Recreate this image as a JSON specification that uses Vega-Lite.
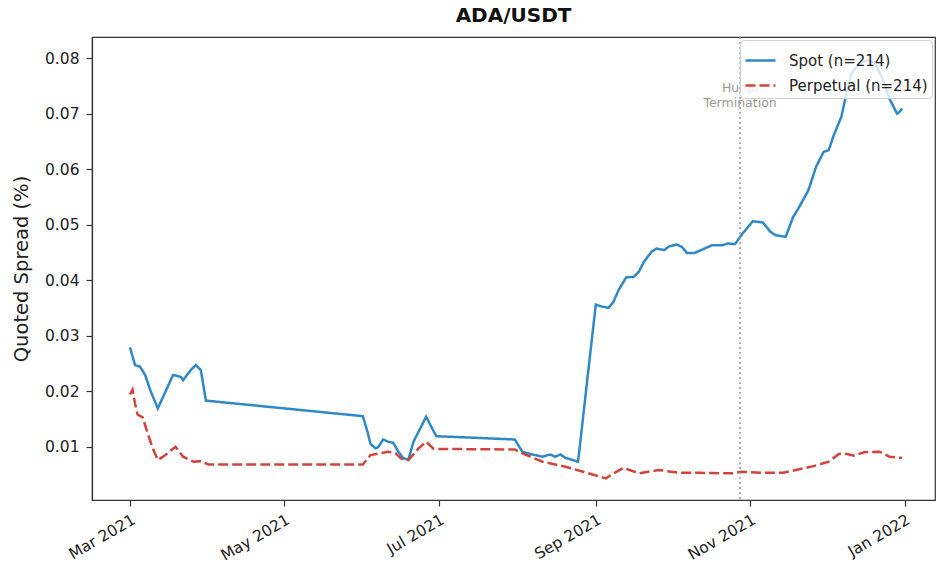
{
  "$schema": "https://vega.github.io/schema/vega-lite/v6.json",
  "width": 843,
  "height": 463,
  "autosize": {"type": "none"},
  "padding": {"left": 92, "top": 37, "right": 5, "bottom": 73},
  "background": "white",
  "title": {"text": "ADA/USDT", "fontSize": 20, "fontWeight": "bold", "font": "DejaVu Sans", "color": "#111", "offset": 10},
  "config": {
    "font": "DejaVu Sans",
    "view": {"stroke": "#333", "strokeWidth": 1.2},
    "axis": {
      "labelFont": "DejaVu Sans", "labelFontSize": 15.5, "labelColor": "#222",
      "titleFont": "DejaVu Sans", "titleFontSize": 19.5, "titleFontWeight": "normal", "titleColor": "#222",
      "tickColor": "#333", "tickSize": 6, "tickWidth": 1.2,
      "domainColor": "#333", "domainWidth": 1.2, "grid": false
    },
    "legend": {
      "orient": "top-right", "offset": 3,
      "fillColor": "rgba(255,255,255,0.8)", "strokeColor": "#d0d0d0", "cornerRadius": 4,
      "padding": 4, "labelFont": "DejaVu Sans", "labelFontSize": 15, "labelColor": "#222",
      "symbolType": "stroke", "symbolSize": 900, "symbolStrokeWidth": 2.4, "labelOffset": 12, "rowPadding": 0
    }
  },
  "layer": [
    {
      "data": {"values": [
        {"date": "2021-03-01T00:00:00", "series": "Spot (n=214)", "spread": 0.0279},
        {"date": "2021-03-03T00:00:00", "series": "Spot (n=214)", "spread": 0.0247},
        {"date": "2021-03-05T00:00:00", "series": "Spot (n=214)", "spread": 0.0244},
        {"date": "2021-03-07T00:00:00", "series": "Spot (n=214)", "spread": 0.0229},
        {"date": "2021-03-09T00:00:00", "series": "Spot (n=214)", "spread": 0.0202},
        {"date": "2021-03-12T00:00:00", "series": "Spot (n=214)", "spread": 0.0169},
        {"date": "2021-03-15T00:00:00", "series": "Spot (n=214)", "spread": 0.0199},
        {"date": "2021-03-18T00:00:00", "series": "Spot (n=214)", "spread": 0.0229},
        {"date": "2021-03-21T00:00:00", "series": "Spot (n=214)", "spread": 0.0226},
        {"date": "2021-03-22T00:00:00", "series": "Spot (n=214)", "spread": 0.0220},
        {"date": "2021-03-25T00:00:00", "series": "Spot (n=214)", "spread": 0.0238},
        {"date": "2021-03-27T00:00:00", "series": "Spot (n=214)", "spread": 0.0247},
        {"date": "2021-03-29T00:00:00", "series": "Spot (n=214)", "spread": 0.0238},
        {"date": "2021-03-31T00:00:00", "series": "Spot (n=214)", "spread": 0.0183},
        {"date": "2021-06-01T00:00:00", "series": "Spot (n=214)", "spread": 0.0155},
        {"date": "2021-06-03T00:00:00", "series": "Spot (n=214)", "spread": 0.0124},
        {"date": "2021-06-04T00:00:00", "series": "Spot (n=214)", "spread": 0.0105},
        {"date": "2021-06-06T00:00:00", "series": "Spot (n=214)", "spread": 0.0097},
        {"date": "2021-06-07T00:00:00", "series": "Spot (n=214)", "spread": 0.0099},
        {"date": "2021-06-09T00:00:00", "series": "Spot (n=214)", "spread": 0.0113},
        {"date": "2021-06-11T00:00:00", "series": "Spot (n=214)", "spread": 0.0109},
        {"date": "2021-06-13T00:00:00", "series": "Spot (n=214)", "spread": 0.0107},
        {"date": "2021-06-15T00:00:00", "series": "Spot (n=214)", "spread": 0.0091},
        {"date": "2021-06-17T00:00:00", "series": "Spot (n=214)", "spread": 0.0079},
        {"date": "2021-06-19T00:00:00", "series": "Spot (n=214)", "spread": 0.0077},
        {"date": "2021-06-21T00:00:00", "series": "Spot (n=214)", "spread": 0.0109},
        {"date": "2021-06-23T00:00:00", "series": "Spot (n=214)", "spread": 0.0127},
        {"date": "2021-06-25T00:00:00", "series": "Spot (n=214)", "spread": 0.0145},
        {"date": "2021-06-26T00:00:00", "series": "Spot (n=214)", "spread": 0.0154},
        {"date": "2021-06-28T00:00:00", "series": "Spot (n=214)", "spread": 0.0136},
        {"date": "2021-06-30T00:00:00", "series": "Spot (n=214)", "spread": 0.0119},
        {"date": "2021-07-31T00:00:00", "series": "Spot (n=214)", "spread": 0.0113},
        {"date": "2021-08-03T00:00:00", "series": "Spot (n=214)", "spread": 0.0091},
        {"date": "2021-08-07T00:00:00", "series": "Spot (n=214)", "spread": 0.0086},
        {"date": "2021-08-11T00:00:00", "series": "Spot (n=214)", "spread": 0.0082},
        {"date": "2021-08-14T00:00:00", "series": "Spot (n=214)", "spread": 0.0086},
        {"date": "2021-08-16T00:00:00", "series": "Spot (n=214)", "spread": 0.0082},
        {"date": "2021-08-18T00:00:00", "series": "Spot (n=214)", "spread": 0.0086},
        {"date": "2021-08-20T00:00:00", "series": "Spot (n=214)", "spread": 0.0080},
        {"date": "2021-08-25T00:00:00", "series": "Spot (n=214)", "spread": 0.0073},
        {"date": "2021-09-01T00:00:00", "series": "Spot (n=214)", "spread": 0.0356},
        {"date": "2021-09-03T00:00:00", "series": "Spot (n=214)", "spread": 0.0353},
        {"date": "2021-09-06T00:00:00", "series": "Spot (n=214)", "spread": 0.0350},
        {"date": "2021-09-08T00:00:00", "series": "Spot (n=214)", "spread": 0.0361},
        {"date": "2021-09-10T00:00:00", "series": "Spot (n=214)", "spread": 0.0382},
        {"date": "2021-09-13T00:00:00", "series": "Spot (n=214)", "spread": 0.0405},
        {"date": "2021-09-16T00:00:00", "series": "Spot (n=214)", "spread": 0.0406},
        {"date": "2021-09-18T00:00:00", "series": "Spot (n=214)", "spread": 0.0415},
        {"date": "2021-09-20T00:00:00", "series": "Spot (n=214)", "spread": 0.0433},
        {"date": "2021-09-23T00:00:00", "series": "Spot (n=214)", "spread": 0.0451},
        {"date": "2021-09-25T00:00:00", "series": "Spot (n=214)", "spread": 0.0457},
        {"date": "2021-09-28T00:00:00", "series": "Spot (n=214)", "spread": 0.0454},
        {"date": "2021-09-30T00:00:00", "series": "Spot (n=214)", "spread": 0.0461},
        {"date": "2021-10-03T00:00:00", "series": "Spot (n=214)", "spread": 0.0464},
        {"date": "2021-10-05T00:00:00", "series": "Spot (n=214)", "spread": 0.0460},
        {"date": "2021-10-07T00:00:00", "series": "Spot (n=214)", "spread": 0.0449},
        {"date": "2021-10-10T00:00:00", "series": "Spot (n=214)", "spread": 0.0449},
        {"date": "2021-10-13T00:00:00", "series": "Spot (n=214)", "spread": 0.0455},
        {"date": "2021-10-17T00:00:00", "series": "Spot (n=214)", "spread": 0.0463},
        {"date": "2021-10-21T00:00:00", "series": "Spot (n=214)", "spread": 0.0463},
        {"date": "2021-10-23T00:00:00", "series": "Spot (n=214)", "spread": 0.0466},
        {"date": "2021-10-26T00:00:00", "series": "Spot (n=214)", "spread": 0.0465},
        {"date": "2021-10-29T00:00:00", "series": "Spot (n=214)", "spread": 0.0484},
        {"date": "2021-11-02T00:00:00", "series": "Spot (n=214)", "spread": 0.0506},
        {"date": "2021-11-06T00:00:00", "series": "Spot (n=214)", "spread": 0.0504},
        {"date": "2021-11-09T00:00:00", "series": "Spot (n=214)", "spread": 0.0487},
        {"date": "2021-11-11T00:00:00", "series": "Spot (n=214)", "spread": 0.0481},
        {"date": "2021-11-15T00:00:00", "series": "Spot (n=214)", "spread": 0.0478},
        {"date": "2021-11-18T00:00:00", "series": "Spot (n=214)", "spread": 0.0514},
        {"date": "2021-11-20T00:00:00", "series": "Spot (n=214)", "spread": 0.0529},
        {"date": "2021-11-24T00:00:00", "series": "Spot (n=214)", "spread": 0.0562},
        {"date": "2021-11-27T00:00:00", "series": "Spot (n=214)", "spread": 0.0604},
        {"date": "2021-11-30T00:00:00", "series": "Spot (n=214)", "spread": 0.0631},
        {"date": "2021-12-02T00:00:00", "series": "Spot (n=214)", "spread": 0.0634},
        {"date": "2021-12-04T00:00:00", "series": "Spot (n=214)", "spread": 0.0661},
        {"date": "2021-12-07T00:00:00", "series": "Spot (n=214)", "spread": 0.0694},
        {"date": "2021-12-09T00:00:00", "series": "Spot (n=214)", "spread": 0.0736},
        {"date": "2021-12-11T00:00:00", "series": "Spot (n=214)", "spread": 0.0772},
        {"date": "2021-12-14T00:00:00", "series": "Spot (n=214)", "spread": 0.0790},
        {"date": "2021-12-17T00:00:00", "series": "Spot (n=214)", "spread": 0.0796},
        {"date": "2021-12-20T00:00:00", "series": "Spot (n=214)", "spread": 0.0793},
        {"date": "2021-12-23T00:00:00", "series": "Spot (n=214)", "spread": 0.0766},
        {"date": "2021-12-26T00:00:00", "series": "Spot (n=214)", "spread": 0.0727},
        {"date": "2021-12-29T00:00:00", "series": "Spot (n=214)", "spread": 0.0700},
        {"date": "2021-12-30T00:00:00", "series": "Spot (n=214)", "spread": 0.0703},
        {"date": "2021-12-31T00:00:00", "series": "Spot (n=214)", "spread": 0.0709},
        {"date": "2021-03-01T00:00:00", "series": "Perpetual (n=214)", "spread": 0.0194},
        {"date": "2021-03-02T00:00:00", "series": "Perpetual (n=214)", "spread": 0.0203},
        {"date": "2021-03-03T00:00:00", "series": "Perpetual (n=214)", "spread": 0.0178},
        {"date": "2021-03-04T00:00:00", "series": "Perpetual (n=214)", "spread": 0.0158},
        {"date": "2021-03-06T00:00:00", "series": "Perpetual (n=214)", "spread": 0.0153},
        {"date": "2021-03-08T00:00:00", "series": "Perpetual (n=214)", "spread": 0.0124},
        {"date": "2021-03-10T00:00:00", "series": "Perpetual (n=214)", "spread": 0.0097},
        {"date": "2021-03-12T00:00:00", "series": "Perpetual (n=214)", "spread": 0.0076},
        {"date": "2021-03-15T00:00:00", "series": "Perpetual (n=214)", "spread": 0.0085},
        {"date": "2021-03-19T00:00:00", "series": "Perpetual (n=214)", "spread": 0.0100},
        {"date": "2021-03-22T00:00:00", "series": "Perpetual (n=214)", "spread": 0.0082},
        {"date": "2021-03-26T00:00:00", "series": "Perpetual (n=214)", "spread": 0.0073},
        {"date": "2021-03-29T00:00:00", "series": "Perpetual (n=214)", "spread": 0.0074},
        {"date": "2021-04-01T00:00:00", "series": "Perpetual (n=214)", "spread": 0.0068},
        {"date": "2021-06-01T00:00:00", "series": "Perpetual (n=214)", "spread": 0.0068},
        {"date": "2021-06-04T00:00:00", "series": "Perpetual (n=214)", "spread": 0.0085},
        {"date": "2021-06-11T00:00:00", "series": "Perpetual (n=214)", "spread": 0.0091},
        {"date": "2021-06-14T00:00:00", "series": "Perpetual (n=214)", "spread": 0.0088},
        {"date": "2021-06-16T00:00:00", "series": "Perpetual (n=214)", "spread": 0.0079},
        {"date": "2021-06-19T00:00:00", "series": "Perpetual (n=214)", "spread": 0.0076},
        {"date": "2021-06-23T00:00:00", "series": "Perpetual (n=214)", "spread": 0.0097},
        {"date": "2021-06-26T00:00:00", "series": "Perpetual (n=214)", "spread": 0.0109},
        {"date": "2021-06-29T00:00:00", "series": "Perpetual (n=214)", "spread": 0.0096},
        {"date": "2021-07-31T00:00:00", "series": "Perpetual (n=214)", "spread": 0.0095},
        {"date": "2021-08-03T00:00:00", "series": "Perpetual (n=214)", "spread": 0.0088},
        {"date": "2021-08-11T00:00:00", "series": "Perpetual (n=214)", "spread": 0.0073},
        {"date": "2021-08-20T00:00:00", "series": "Perpetual (n=214)", "spread": 0.0064},
        {"date": "2021-08-27T00:00:00", "series": "Perpetual (n=214)", "spread": 0.0055},
        {"date": "2021-09-05T00:00:00", "series": "Perpetual (n=214)", "spread": 0.0043},
        {"date": "2021-09-08T00:00:00", "series": "Perpetual (n=214)", "spread": 0.0052},
        {"date": "2021-09-12T00:00:00", "series": "Perpetual (n=214)", "spread": 0.0062},
        {"date": "2021-09-18T00:00:00", "series": "Perpetual (n=214)", "spread": 0.0052},
        {"date": "2021-09-26T00:00:00", "series": "Perpetual (n=214)", "spread": 0.0058},
        {"date": "2021-10-04T00:00:00", "series": "Perpetual (n=214)", "spread": 0.0053},
        {"date": "2021-10-12T00:00:00", "series": "Perpetual (n=214)", "spread": 0.0053},
        {"date": "2021-10-25T00:00:00", "series": "Perpetual (n=214)", "spread": 0.0052},
        {"date": "2021-10-29T00:00:00", "series": "Perpetual (n=214)", "spread": 0.0055},
        {"date": "2021-11-05T00:00:00", "series": "Perpetual (n=214)", "spread": 0.0053},
        {"date": "2021-11-14T00:00:00", "series": "Perpetual (n=214)", "spread": 0.0053},
        {"date": "2021-11-22T00:00:00", "series": "Perpetual (n=214)", "spread": 0.0061},
        {"date": "2021-11-26T00:00:00", "series": "Perpetual (n=214)", "spread": 0.0065},
        {"date": "2021-12-02T00:00:00", "series": "Perpetual (n=214)", "spread": 0.0073},
        {"date": "2021-12-06T00:00:00", "series": "Perpetual (n=214)", "spread": 0.0087},
        {"date": "2021-12-08T00:00:00", "series": "Perpetual (n=214)", "spread": 0.0088},
        {"date": "2021-12-12T00:00:00", "series": "Perpetual (n=214)", "spread": 0.0084},
        {"date": "2021-12-16T00:00:00", "series": "Perpetual (n=214)", "spread": 0.0090},
        {"date": "2021-12-22T00:00:00", "series": "Perpetual (n=214)", "spread": 0.0091},
        {"date": "2021-12-26T00:00:00", "series": "Perpetual (n=214)", "spread": 0.0082},
        {"date": "2021-12-30T00:00:00", "series": "Perpetual (n=214)", "spread": 0.0080},
        {"date": "2021-12-31T00:00:00", "series": "Perpetual (n=214)", "spread": 0.0080}
      ]},
      "mark": {"type": "line", "strokeWidth": 2.5},
      "encoding": {
        "x": {
          "field": "date", "type": "temporal",
          "scale": {"domain": [{"year": 2021, "month": 2, "date": 14}, {"year": 2022, "month": 1, "date": 13}]},
          "axis": {
            "title": null, "format": "%b %Y", "labelAngle": -30, "labelAlign": "right", "labelBaseline": "top",
            "labelPadding": 6, "labelOverlap": false, "labelFlush": false,
            "values": [
              {"year": 2021, "month": 3, "date": 1},
              {"year": 2021, "month": 5, "date": 1},
              {"year": 2021, "month": 7, "date": 1},
              {"year": 2021, "month": 9, "date": 1},
              {"year": 2021, "month": 11, "date": 1},
              {"year": 2022, "month": 1, "date": 1}
            ]
          }
        },
        "y": {
          "field": "spread", "type": "quantitative",
          "scale": {"domain": [0.0004, 0.0838], "nice": false, "zero": false},
          "axis": {"title": "Quoted Spread (%)", "format": ".2f", "values": [0.01, 0.02, 0.03, 0.04, 0.05, 0.06, 0.07, 0.08], "labelPadding": 7, "titlePadding": 13}
        },
        "color": {
          "field": "series", "type": "nominal",
          "scale": {"domain": ["Spot (n=214)", "Perpetual (n=214)"], "range": ["#2f88c8", "#d0453b"]},
          "legend": {"title": null}
        },
        "strokeDash": {
          "field": "series", "type": "nominal",
          "scale": {"domain": ["Spot (n=214)", "Perpetual (n=214)"], "range": [[1, 0], [10, 4]]},
          "legend": {"title": null}
        }
      }
    },
    {
      "data": {"values": [{"date": "2021-10-28T00:00:00"}]},
      "mark": {"type": "rule", "color": "#999", "strokeDash": [2, 3], "strokeWidth": 1.5},
      "encoding": {"x": {"field": "date", "type": "temporal"}}
    },
    {
      "data": {"values": [{"date": "2021-10-28T00:00:00", "spread": 0.0746, "label": "Huobi\nTermination"}]},
      "mark": {"type": "text", "lineBreak": "\n", "fontSize": 12.5, "color": "#999", "align": "center", "baseline": "middle", "lineHeight": 14.5},
      "encoding": {
        "x": {"field": "date", "type": "temporal"},
        "y": {"field": "spread", "type": "quantitative"},
        "text": {"field": "label"}
      }
    }
  ]
}
